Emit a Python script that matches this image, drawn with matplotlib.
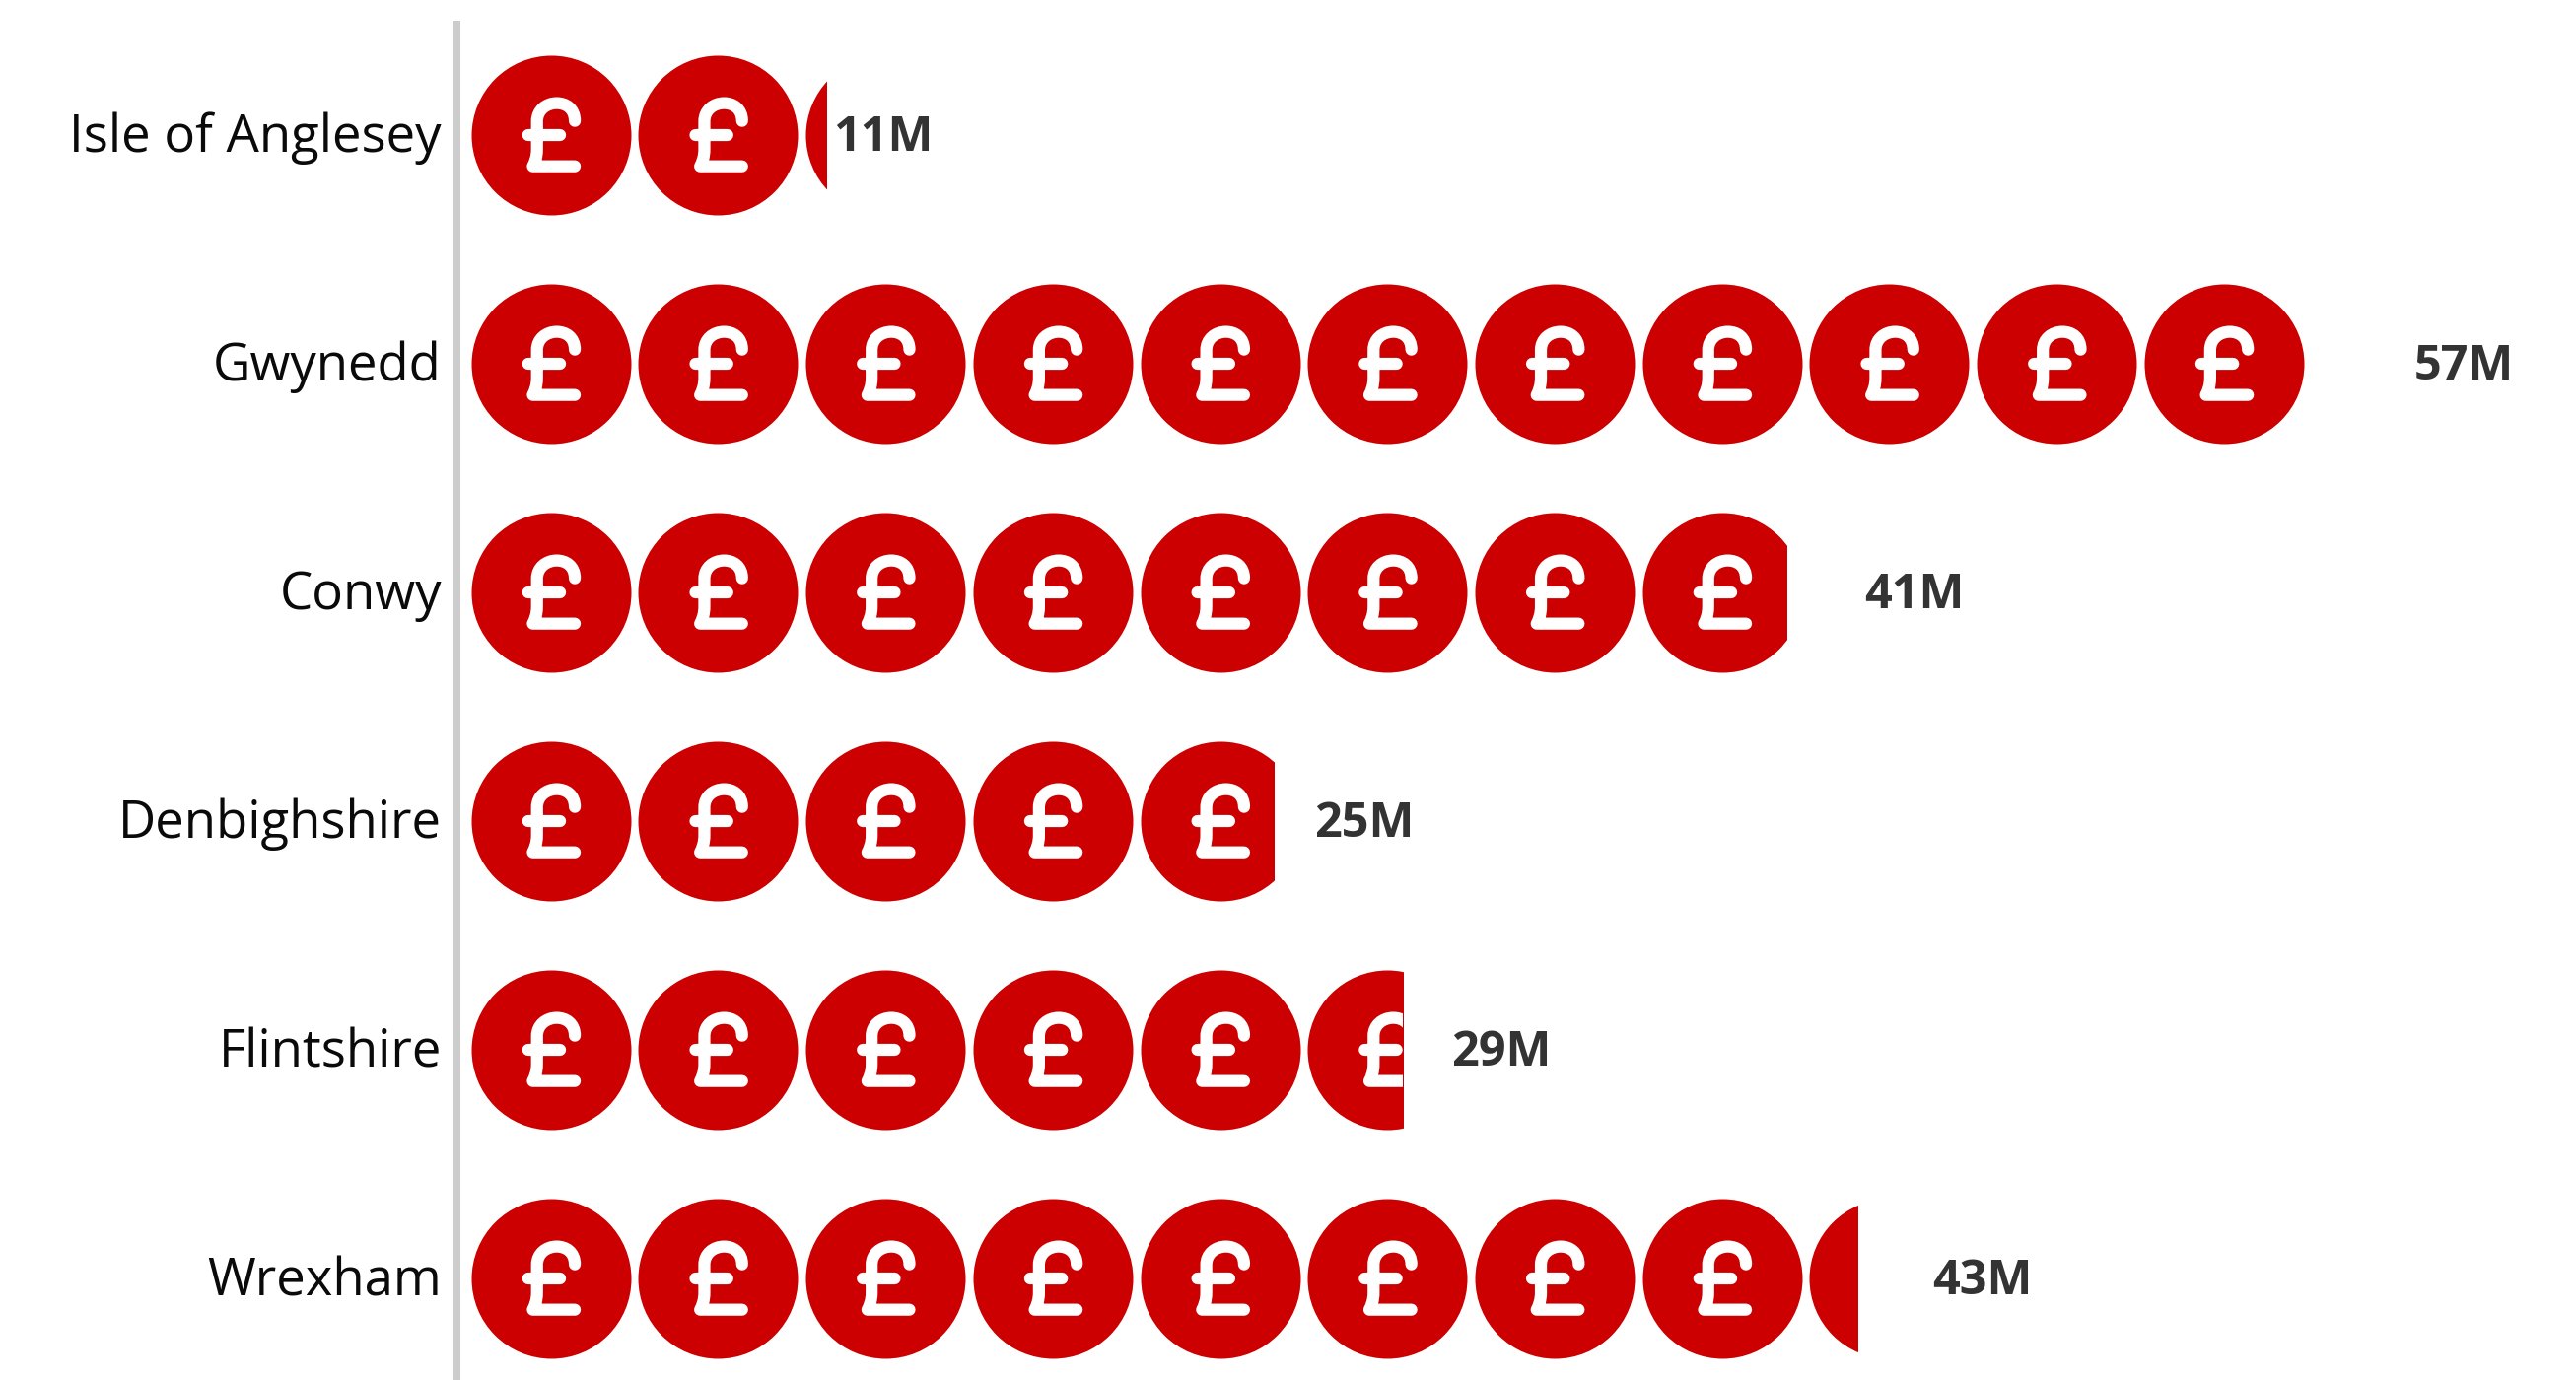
import numpy as np
import matplotlib
matplotlib.use("Agg")
import matplotlib.pyplot as plt
from matplotlib.path import Path
from matplotlib.patches import Rectangle

#Data
counties = ["Isle of Anglesey", "Gwynedd", "Conwy", "Denbighshire", "Flintshire", "Wrexham"]
values = [11.0, 57.0, 40.8, 24.9, 28.9, 43.0]
value_labels = ["11M", "57M", "41M", "25M", "29M", "43M"]

#One coin stands for this many millions
coin_step = 5.19
coin_first = 2.47

#Layout in pixels
W, H = 2613, 1400
zero_px = 478
px_per_m = 32.7
row_top = 137
row_px = 232

red = "#CC0000"

#Coin and pound sign as marker paths (radius 1)
circle = Path.unit_circle()
M, L, C = Path.MOVETO, Path.LINETO, Path.CURVE4
pound_verts = [
    (1, 0),
    (0.30, 0.177),
    (0.30, 0.33), (0.19, 0.40), (0.074, 0.40),
    (-0.06, 0.40), (-0.173, 0.31), (-0.173, 0.173),
    (-0.173, -0.177),
    (-0.173, -0.28), (-0.20, -0.34), (-0.226, -0.391),
    (0.30, -0.391),
    (-0.284, 0.0),
    (0.115, 0.0),
]
pound_codes = [M, M, C, C, C, C, C, C, L, C, C, C, L, M, L]
pound = Path(pound_verts, pound_codes)

fig = plt.figure(figsize=(W / 100, H / 100), dpi=100)
ax = fig.add_axes([0, 0, 1, 1])
ax.set_xlim(-zero_px / px_per_m, (W - zero_px) / px_per_m)
ax.set_ylim((H - row_top) / row_px, -row_top / row_px)
ax.axis("off")

#Grey axis line
ax.vlines(-0.46, (21 - row_top) / row_px, (H - row_top) / row_px, color="#CCCCCC", lw=5.8)

coin_size = (162 * 72 / 100) ** 2

for i in range(len(counties)):
    n = int(np.ceil(values[i] / coin_step))
    xs = coin_first + coin_step * np.arange(n)
    ys = np.full(n, i)
    clip = Rectangle((0, i - 0.5), values[i], 1, transform=ax.transData)

    coins = ax.scatter(xs, ys, s=coin_size, marker=circle, color=red, linewidths=0)
    coins.set_clip_path(clip)
    signs = ax.scatter(xs, ys, s=coin_size, marker=pound, facecolors="none",
                       edgecolors="white", linewidths=8.8, capstyle="round", joinstyle="round")
    signs.set_clip_path(clip)

    ax.text(-0.92, i + 0.015, counties[i], ha="right", va="center", fontsize=38,
            family="Open Sans", color="#0A0A0A")
    ax.text(-0.5 + round(values[i]) * 1.066, i + 0.015, value_labels[i], ha="left", va="center",
            fontsize=35, family="Open Sans", fontweight="bold", color="#333333")

plt.savefig("out.png", dpi=100)
